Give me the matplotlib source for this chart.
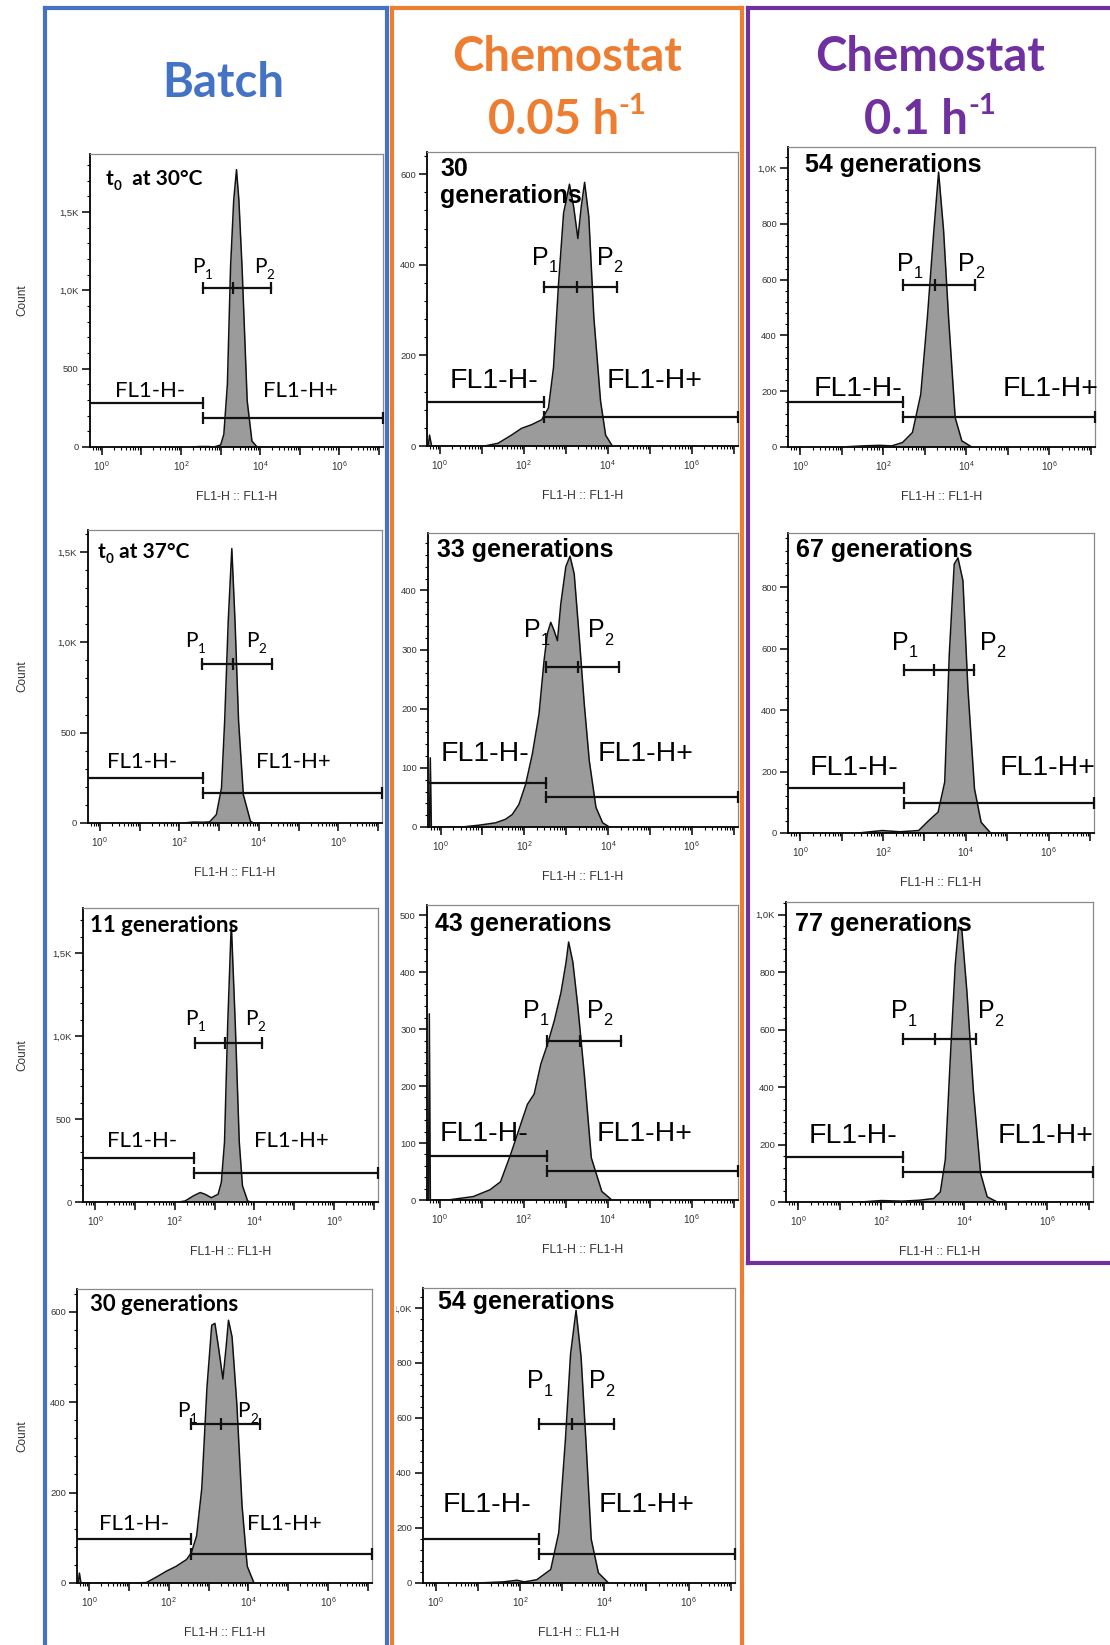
import matplotlib
matplotlib.use('Agg')
import matplotlib.pyplot as plt
import numpy as np
from matplotlib.lines import Line2D
from matplotlib.transforms import Bbox, TransformedBbox
from matplotlib.ticker import FixedLocator, FixedFormatter, MultipleLocator, LogLocator, NullFormatter

plt.rcParams['mathtext.fontset'] = 'custom'
plt.rcParams['mathtext.rm'] = 'Liberation Sans'
plt.rcParams['mathtext.it'] = 'Liberation Sans'

W, H = 1110, 1645
fig = plt.figure(figsize=(W / 100, H / 100), dpi=100)
renderer = fig.canvas.get_renderer()

# ---------------- data (x values are log10 of FL1-H, y values are counts) ----------------
b1_x = [2.30, 2.45, 2.70, 2.83, 3.00, 3.08, 3.17, 3.25, 3.33, 3.40, 3.46, 3.54, 3.67, 3.79, 3.92, 4.20]
b1_y = [0, 3, 3, 0, 13, 81, 400, 1150, 1577, 1770, 1577, 1150, 295, 38, 0, 0]
b2_x = [2.10, 2.35, 2.60, 2.76, 2.93, 3.06, 3.14, 3.23, 3.32, 3.40, 3.49, 3.61, 3.79, 3.87, 4.20]
b2_y = [0, 5, 4, 6, 46, 194, 565, 1120, 1519, 1120, 565, 157, 9, 0, 0]
b3_x = [2.10, 2.26, 2.47, 2.64, 2.76, 2.92, 3.09, 3.17, 3.25, 3.33, 3.42, 3.52, 3.62, 3.70, 3.83, 3.91]
b3_y = [0, 6, 37, 57, 47, 26, 47, 118, 362, 1073, 1683, 1073, 362, 98, 6, 0]
b4_x = [-0.27, -0.24, -0.20, 1.10, 1.44, 1.69, 1.94, 2.19, 2.45, 2.57, 2.70, 2.83, 2.96, 3.08,
        3.16, 3.25, 3.36, 3.44, 3.50, 3.59, 3.71, 3.84, 3.97, 4.14]
b4_y = [0, 22, 0, 0, 1, 13, 26, 37, 52, 67, 104, 209, 432, 570, 574, 521, 451, 521, 581, 544,
        395, 171, 37, 0]
c1_x = [-0.27, -0.24, -0.19, 1.07, 1.39, 1.71, 1.95, 2.19, 2.43, 2.59, 2.71, 2.83, 2.95, 3.09,
        3.19, 3.29, 3.37, 3.45, 3.55, 3.67, 3.83, 3.95, 4.11]
c1_y = [0, 24, 0, 0, 6, 24, 39, 47, 58, 84, 173, 358, 514, 578, 528, 458, 528, 582, 506, 284, 99, 24, 0]
c2_x = [-0.265, -0.245, -0.22, 0.51, 0.91, 1.31, 1.55, 1.71, 1.87, 2.03, 2.19, 2.35, 2.47, 2.55,
        2.63, 2.71, 2.79, 2.87, 2.99, 3.09, 3.19, 3.31, 3.43, 3.55, 3.71, 3.87, 4.03]
c2_y = [0, 117, 0, 0, 3, 7, 13, 21, 38, 72, 123, 191, 281, 327, 346, 332, 315, 377, 440, 458,
        428, 321, 208, 112, 33, 7, 0]
c3_x = [-0.265, -0.245, -0.22, 0.20, 0.80, 1.20, 1.45, 1.69, 1.93, 2.09, 2.25, 2.41, 2.57, 2.73,
        2.89, 3.01, 3.07, 3.17, 3.29, 3.45, 3.61, 3.86, 4.10]
c3_y = [0, 327, 0, 0, 6, 18, 32, 80, 133, 168, 186, 239, 274, 315, 365, 418, 453, 418, 339, 215, 74, 15, 0]
c4_x = [1.00, 1.60, 1.93, 2.10, 2.40, 2.73, 2.92, 3.08, 3.20, 3.33, 3.45, 3.57, 3.69, 3.86, 4.10]
c4_y = [0, 4, 10, 4, 12, 49, 183, 526, 832, 991, 820, 501, 159, 37, 0]
d1_x = [1.00, 1.50, 1.90, 2.20, 2.46, 2.70, 2.90, 3.06, 3.21, 3.33, 3.45, 3.57, 3.73, 3.89, 4.13]
d1_y = [0, 4, 6, 4, 16, 52, 189, 465, 765, 986, 777, 465, 105, 22, 0]
d2_x = [1.40, 1.98, 2.40, 2.86, 3.10, 3.33, 3.49, 3.60, 3.72, 3.81, 3.93, 4.05, 4.21, 4.37, 4.60]
d2_y = [0, 8, 4, 8, 40, 68, 166, 581, 876, 896, 822, 472, 144, 35, 0]
d3_x = [1.50, 2.00, 2.50, 2.90, 3.26, 3.42, 3.54, 3.66, 3.78, 3.86, 3.94, 4.06, 4.22, 4.39, 4.55, 4.79]
d3_y = [0, 5, 3, 6, 12, 35, 147, 499, 827, 957, 945, 733, 381, 100, 18, 0]

# gates: (FL1-H- end, FL1-H- level, FL1-H+ level, P1 start, P1/P2 split, P2 end, P level)
b1_gate = (2.55, 282, 186, 2.55, 3.30, 4.27, 1013)
b2_gate = (2.59, 250, 167, 2.57, 3.36, 4.33, 878)
b3_gate = (2.49, 268, 177, 2.52, 3.26, 4.20, 957)
b4_gate = (2.56, 98, 65, 2.56, 3.32, 4.28, 351)
c1_gate = (2.49, 98, 64, 2.49, 3.26, 4.22, 351)
c2_gate = (2.52, 75, 51, 2.52, 3.29, 4.27, 271)
c3_gate = (2.55, 78, 51, 2.55, 3.33, 4.31, 280)
c4_gate = (2.46, 161, 104, 2.46, 3.23, 4.24, 579)
d1_gate = (2.48, 162, 108, 2.48, 3.24, 4.21, 581)
d2_gate = (2.50, 148, 98, 2.50, 3.24, 4.21, 530)
d3_gate = (2.53, 155, 103, 2.53, 3.28, 4.27, 567)

ylim_top = dict(b1=1870, b2=1622, b3=1774, b4=650, c1=649, c2=497, c3=518, c4=1072,
                d1=1076, d2=977, d3=1044)
yt_k15 = [0, 500, 1000, 1500]
yl_k15 = ['0', '500', '1,0K', '1,5K']
yt_600 = [0, 200, 400, 600]
yl_600 = ['0', '200', '400', '600']
yt_400 = [0, 100, 200, 300, 400]
yl_400 = ['0', '100', '200', '300', '400']
yt_500 = [0, 100, 200, 300, 400, 500]
yl_500 = ['0', '100', '200', '300', '400', '500']
yt_k10 = [0, 200, 400, 600, 800, 1000]
yl_k10 = ['0', '200', '400', '600', '800', '1,0K']
yt_800 = [0, 200, 400, 600, 800]
yl_800 = ['0', '200', '400', '600', '800']

gen_labels = dict(b1='t|0|  at 30°C', b2='t|0| at 37°C', b3='11 generations', b4='30 generations',
                  c1='30', c2='33 generations', c3='43 generations', c4='54 generations',
                  d1='54 generations', d2='67 generations', d3='77 generations')
x_decades = [0, 1, 2, 3, 4, 5, 6, 7]
x_decade_labels = ['$10^{0}$', '', '$10^{2}$', '', '$10^{4}$', '', '$10^{6}$', '']
XLIM = (-0.3, 7.1)

# ---------------- layout ----------------
BATCH_F = 'Lato'
CHEMO_F = 'Liberation Sans'

panels = [
    # key, rect(l,t,r,b px), x, y, gate, yt, yl, minor, col, gen pos, neg pos, pos pos, p1 pos, p2 pos
    ('b1', (90, 154, 383, 447), b1_x, b1_y, b1_gate, yt_k15, yl_k15, 100, 'B', (0.055, 0.894), (0.085, 0.17), (0.59, 0.17), (0.35, 0.594), (0.56, 0.594)),
    ('b2', (88, 530, 382, 823), b2_x, b2_y, b2_gate, yt_k15, yl_k15, 100, 'B', (0.034, 0.904), (0.065, 0.188), (0.57, 0.188), (0.33, 0.60), (0.537, 0.60)),
    ('b3', (83, 908, 378, 1202), b3_x, b3_y, b3_gate, yt_k15, yl_k15, 100, 'B', (0.024, 0.918), (0.08, 0.187), (0.58, 0.187), (0.346, 0.602), (0.55, 0.602)),
    ('b4', (77, 1289, 372, 1583), b4_x, b4_y, b4_gate, yt_600, yl_600, 40, 'B', (0.044, 0.925), (0.075, 0.18), (0.575, 0.18), (0.34, 0.565), (0.544, 0.565)),
    ('c1', (427, 152, 738, 446), c1_x, c1_y, c1_gate, yt_600, yl_600, 40, 'C', (0.042, 0.92), (0.074, 0.197), (0.578, 0.197), (0.337, 0.616), (0.546, 0.616)),
    ('c2', (428, 533, 738, 827), c2_x, c2_y, c2_gate, yt_400, yl_400, 20, 'C', (0.028, 0.918), (0.042, 0.225), (0.548, 0.225), (0.31, 0.646), (0.516, 0.646)),
    ('c3', (427, 905, 738, 1200), c3_x, c3_y, c3_gate, yt_500, yl_500, 20, 'C', (0.026, 0.912), (0.042, 0.20), (0.547, 0.20), (0.309, 0.617), (0.514, 0.617)),
    ('c4', (423, 1288, 735, 1583), c4_x, c4_y, c4_gate, yt_k10, yl_k10, 40, 'C', (0.048, 0.929), (0.064, 0.24), (0.564, 0.24), (0.333, 0.66), (0.532, 0.66)),
    ('d1', (788, 147, 1095, 447), d1_x, d1_y, d1_gate, yt_k10, yl_k10, 40, 'D', (0.055, 0.917), (0.085, 0.17), (0.70, 0.17), (0.355, 0.587), (0.554, 0.587)),
    ('d2', (788, 533, 1094, 833), d2_x, d2_y, d2_gate, yt_800, yl_800, 40, 'D', (0.026, 0.92), (0.072, 0.193), (0.69, 0.193), (0.34, 0.61), (0.627, 0.61)),
    ('d3', (786, 902, 1093, 1202), d3_x, d3_y, d3_gate, yt_k10, yl_k10, 40, 'D', (0.029, 0.903), (0.075, 0.197), (0.69, 0.197), (0.342, 0.613), (0.625, 0.613)),
]


def segs_text(x_disp, y_disp, segs, family, size, weight='normal', color='black', align='left', zorder=6):
    texts = []
    x = x_disp
    for s, rs, rdy in segs:
        t = fig.text(x / W, (y_disp + rdy * size * 100 / 72) / H, s, fontsize=size * rs,
                     family=family, weight=weight, color=color, ha='left', va='baseline', zorder=zorder)
        bb = t.get_window_extent(renderer=renderer)
        x = bb.x1
        texts.append(t)
    if align == 'center':
        shift = (x - x_disp) / 2 / W
        for t in texts:
            px, py = t.get_position()
            t.set_position((px - shift, py))
    return texts


clip_c = TransformedBbox(Bbox([[396 / W, 0], [1, 1]]), fig.transFigure)

for (key, rect, hx, hy, gate, yt, yl, minor, col, gpos, npos, ppos, p1pos, p2pos) in panels:
    l, t, r, b = rect
    ax = fig.add_axes([l / W, 1 - b / H, (r - l) / W, (b - t) / H])
    ax.set_xscale('log')
    ax.set_xlim(10 ** XLIM[0], 10 ** XLIM[1])
    ax.set_ylim(0, ylim_top[key])
    xs = 10 ** np.array(hx)
    ax.fill_between(xs, hy, 0, color='#9b9b9b', lw=0, zorder=2)
    ax.plot(xs, hy, color='#111111', lw=1.1, zorder=3)

    # axes styling
    for s in ('left', 'bottom'):
        ax.spines[s].set_color('black')
        ax.spines[s].set_linewidth(1.3)
    for s in ('top', 'right'):
        ax.spines[s].set_color('#8a8a8a')
        ax.spines[s].set_linewidth(0.9)
    ax.yaxis.set_major_locator(FixedLocator(yt))
    ax.yaxis.set_major_formatter(FixedFormatter(yl))
    ax.yaxis.set_minor_locator(MultipleLocator(minor))
    ax.xaxis.set_major_locator(FixedLocator([10.0 ** d for d in x_decades]))
    ax.xaxis.set_major_formatter(FixedFormatter(x_decade_labels))
    ax.xaxis.set_minor_locator(LogLocator(base=10, subs=np.arange(2, 10), numticks=20))
    ax.xaxis.set_minor_formatter(NullFormatter())
    ax.tick_params(which='major', direction='out', length=5.5, width=1.1, color='black',
                   labelcolor='#333333', pad=2.5)
    ax.tick_params(axis='y', which='major', labelsize=6.8)
    ax.tick_params(axis='x', which='major', labelsize=7.2, pad=3.5)
    ax.tick_params(which='minor', direction='out', length=2.5, width=0.8, color='black')
    for lab in ax.get_yticklabels() + ax.get_xticklabels():
        lab.set_family(CHEMO_F)
    if col == 'C':
        for lab in ax.get_yticklabels():
            lab.set_clip_box(clip_c)
            lab.set_clip_on(True)

    # gates
    neg_end, neg_y, pos_y, p_lo, p_mid, p_hi, p_y = gate
    gk = dict(color='#111111', lw=1.6, zorder=4)
    mk = dict(color='#111111', ls='none', marker='|', ms=8, mew=1.6, zorder=4, clip_on=False)
    ax.plot([10 ** XLIM[0], 10 ** neg_end], [neg_y, neg_y], **gk)
    ax.plot([10 ** neg_end], [neg_y], **mk)
    ax.plot([10 ** neg_end, 10 ** XLIM[1]], [pos_y, pos_y], **gk)
    ax.plot([10 ** neg_end, 10 ** XLIM[1]], [pos_y, pos_y], **mk)
    ax.plot([10 ** p_lo, 10 ** p_hi], [p_y, p_y], **gk)
    ax.plot([10 ** p_lo, 10 ** p_mid, 10 ** p_hi], [p_y] * 3, **mk)

    # labels
    fam = BATCH_F if col == 'B' else CHEMO_F
    gsize = 16 if col == 'B' else 18
    fsize = 16 if col == 'B' else 20.5
    psize = 15 if col == 'B' else 18

    def at(pos):
        return ax.transAxes.transform(pos)

    lab = gen_labels[key]
    gx, gy = at(gpos)
    if '|' in lab:
        a, sub, rest = lab.split('|')
        segs_text(gx, gy, [(a, 1, 0), (sub, 0.65, -0.25), (rest, 1, 0)], fam, gsize - 1, 'bold')
    else:
        segs_text(gx, gy, [(lab, 1, 0)], fam, gsize, 'bold')
    if key == 'c1':
        gx2, gy2 = at((0.042, 0.826))
        segs_text(gx2, gy2, [('generations', 1, 0)], fam, gsize, 'bold')
    nx, ny = at(npos)
    segs_text(nx, ny, [('FL1-H-', 1, 0)], fam, fsize)
    px_, py_ = at(ppos)
    segs_text(px_, py_, [('FL1-H+', 1, 0)], fam, fsize)
    p1x, p1y = at(p1pos)
    segs_text(p1x, p1y, [('P', 1, 0), ('1', 0.65, -0.3)], fam, psize)
    p2x, p2y = at(p2pos)
    segs_text(p2x, p2y, [('P', 1, 0), ('2', 0.65, -0.3)], fam, psize)

    # axis titles
    fig.text(((l + r) / 2) / W, 1 - (b + 50) / H, 'FL1-H :: FL1-H', fontsize=8.8,
             family=CHEMO_F, color='#333333', ha='center', va='center')
    if col == 'B':
        fig.text(22 / W, 1 - ((t + b) / 2) / H, 'Count', fontsize=8.5, family=CHEMO_F,
                 color='#333333', rotation=90, ha='center', va='center')

# ---------------- column boxes ----------------
def fline(x0, y0, x1, y1, c):
    fig.add_artist(Line2D([x0 / W, x1 / W], [1 - y0 / H, 1 - y1 / H], transform=fig.transFigure,
                          color=c, lw=3.0, solid_capstyle='projecting', zorder=10))

BLUE, ORANGE, PURPLE = '#4472C4', '#ED7D31', '#7030A0'
fline(45, 8, 45, 1650, BLUE)
fline(45, 8, 387, 8, BLUE)
fline(387, 8, 387, 1650, BLUE)
fline(392, 8, 392, 1650, ORANGE)
fline(392, 8, 742, 8, ORANGE)
fline(742, 8, 742, 1650, ORANGE)
fline(748, 8, 748, 1263, PURPLE)
fline(748, 8, 1115, 8, PURPLE)
fline(748, 1263, 1115, 1263, PURPLE)

# ---------------- headers ----------------
HF = 'Lato'
segs_text(223, H - 97, [('Batch', 1, 0)], HF, 34, 'bold', BLUE, 'center')
segs_text(567, H - 71, [('Chemostat', 1, 0)], HF, 34, 'bold', ORANGE, 'center')
segs_text(567, H - 134, [('0.05 h', 1, 0), ('-1', 0.62, 0.42)], HF, 34, 'bold', ORANGE, 'center')
segs_text(930, H - 71, [('Chemostat', 1, 0)], HF, 34, 'bold', PURPLE, 'center')
segs_text(930, H - 134, [('0.1 h', 1, 0), ('-1', 0.62, 0.42)], HF, 34, 'bold', PURPLE, 'center')

fig.savefig('out.png', dpi=100)
